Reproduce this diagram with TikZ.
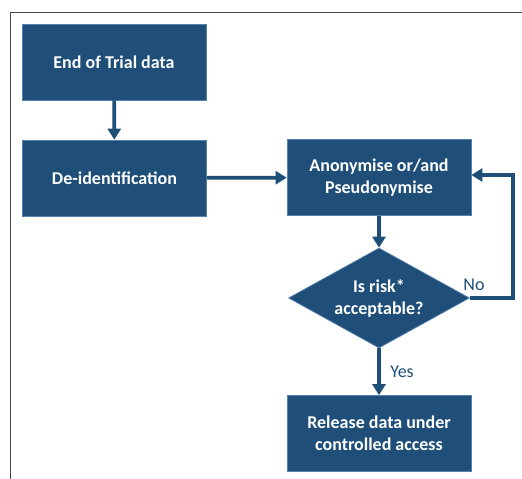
\documentclass[tikz,border=0pt]{standalone}
\usepackage{fontspec}
\setmainfont{Carlito}
\usetikzlibrary{arrows.meta, shapes.geometric}
\definecolor{boxc}{RGB}{31,78,121}
\definecolor{edgec}{RGB}{84,130,178}
\definecolor{framec}{RGB}{70,70,70}

\tikzset{
  stepbox/.style={draw=edgec, fill=boxc, line width=0.7pt, text=white,
    font=\fontsize{18}{22}\selectfont\bfseries, align=center,
    minimum width=184pt, minimum height=76pt, inner sep=0pt},
  riskbox/.style={stepbox, diamond, shape aspect=1.8,
    minimum width=181pt, minimum height=100pt},
  flow/.style={draw=boxc, line width=3.8pt, -{Triangle[length=11pt, width=13pt]}},
  tag/.style={text=boxc, font=\fontsize{18}{20}\selectfont}
}

\begin{document}
\begin{tikzpicture}[x=1pt, y=1pt, line cap=butt]
  \useasboundingbox (0,0) rectangle (522,-479);

  % cropped frame: only top and left edges show
  \draw[framec, line width=1.4pt] (10.5,-479) -- (10.5,-12.5) -- (522,-12.5);

  % left column
  \node[stepbox] (trial) at (114,-62)    {End of Trial data};
  \node[stepbox] (deid)  at (114.5,-178) {De-identification};

  % right column
  \node[stepbox] (anon)    at (379,-177.5) {Anonymise or/and\\Pseudonymise};
  \node[riskbox] (risk)    at (379,-298)   {Is risk*\\acceptable?};
  \node[stepbox] (release) at (379,-433.5) {Release data under\\controlled access};

  \coordinate (loop) at (513,-175);

  \draw[flow] (trial) -- (deid);
  \draw[flow] (deid) -- (anon);
  \draw[flow] (anon) -- (risk);
  \draw[flow] (risk) -- (release);
  \draw[flow, line join=miter] (risk.east) -| (loop) -- (loop -| anon.east);

  % branch labels
  \node[tag] (no)  at (474,-285) {No};
  \node[tag] (yes) at (402,-372) {Yes};
\end{tikzpicture}
\end{document}
